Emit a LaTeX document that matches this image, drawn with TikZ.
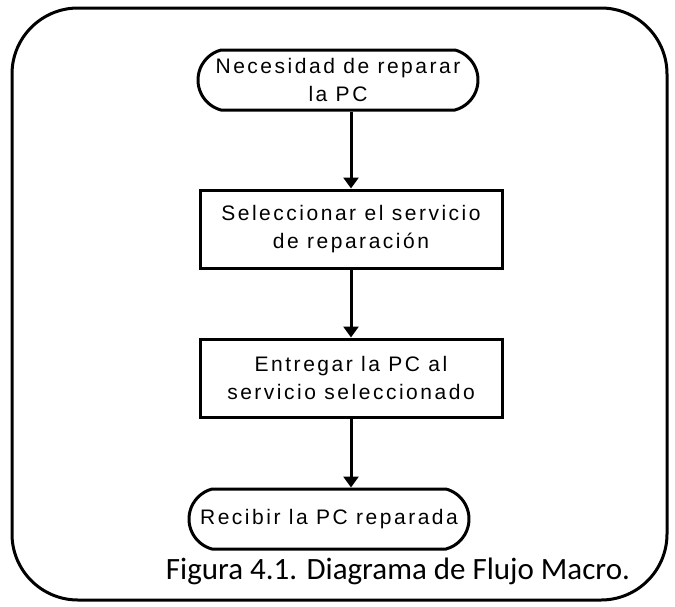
\documentclass[tikz,border=0pt]{standalone}
\usepackage{fontspec}
\newfontfamily\cajafont[LetterSpace=12]{Liberation Sans}
\newfontfamily\piefont{Carlito}
\usetikzlibrary{shapes.misc,arrows.meta}

\begin{document}
\begin{tikzpicture}[x=1pt,y=-1pt,
    tnode/.style={draw,rounded rectangle,rounded rectangle arc length=150,line width=3pt,minimum width=280pt,minimum height=60pt,inner sep=0pt,align=center,font=\cajafont\fontsize{21}{28}\selectfont},
    bnode/.style={draw,rectangle,line width=3pt,minimum width=302pt,minimum height=78pt,inner sep=0pt,align=center,font=\cajafont\fontsize{21}{28}\selectfont},
    flecha/.style={-{Triangle[width=15pt,length=11pt]},line width=3pt}]
    \useasboundingbox (0,0) rectangle (675,606);
    % marco exterior
    \draw[line width=3pt,rounded corners=66pt] (12,8) rectangle (667,600);

    \node[tnode] (necesidad) at (338,80) {Necesidad de reparar\\la PC};
    \node[bnode] (seleccionar) at (351,229) {Seleccionar el servicio\\de reparación};
    \node[bnode] (entregar) at (351,378) {Entregar la PC al\\servicio seleccionado};
    \node[tnode] (recibir) at (329,519) {Recibir la PC reparada};
    \node[font=\piefont\fontsize{31}{34}\selectfont] (pie) at (398,571) {Figura 4.1. Diagrama de Flujo Macro.};

    \draw[flecha] (seleccionar.north |- necesidad.south) -- (seleccionar.north);
    \draw[flecha] (seleccionar.south) -- (entregar.north);
    \draw[flecha] (entregar.south) -- (entregar.south |- recibir.north);
\end{tikzpicture}
\end{document}
